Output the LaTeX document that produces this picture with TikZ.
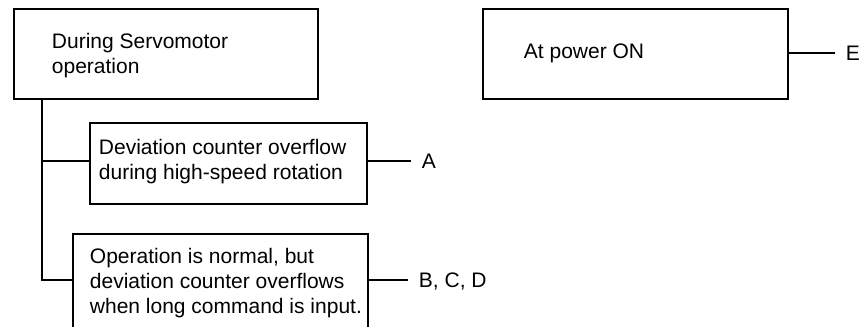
\documentclass[tikz,border=0pt]{standalone}
\usepackage{fontspec}
\setmainfont{Liberation Sans}
\begin{document}
\begin{tikzpicture}[x=0.75pt,y=-0.75pt,line width=1.4pt,
  box/.style={draw,rectangle,inner sep=0pt,anchor=north west},
  txt/.style={inner sep=0pt,align=left,anchor=base west,
    font=\fontsize{15.75pt}{18.75pt}\selectfont},
  lbl/.style={inner ysep=0pt,inner xsep=7.5pt,anchor=west,text depth=0pt,
    font=\fontsize{15.75pt}{18.75pt}\selectfont}]
\useasboundingbox (0,0) rectangle (865,326);
\clip (0,0) rectangle (865,326);
% boxes
\node[box,minimum width=228pt,minimum height=67.5pt] (b1) at (13,8) {};
\node[box,minimum width=207.75pt,minimum height=60.75pt] (b2) at (89,122) {};
\node[box,minimum width=221.25pt,minimum height=90pt] (b3) at (72,233) {};
\node[box,minimum width=228.75pt,minimum height=67.5pt] (b4) at (482,8) {};
% texts (anchored at the baseline of the last line)
\node[txt] (t1) at (51,73) {During Servomotor\\operation};
\node[txt] (t2) at (98,179) {Deviation counter overflow\\during high-speed rotation};
\node[txt] (t3) at (89,313) {Operation is normal, but\\deviation counter overflows\\when long command is input.};
\node[txt] (t4) at (523,58) {At power ON};
% result labels
\node[lbl] (la) at (411,161) {A};
\node[lbl] (lb) at (408,280) {B, C, D};
\node[lbl] (le) at (835,53) {E};
% connectors
\coordinate (j1) at (42,161);
\coordinate (j2) at (42,280);
\draw (b1.south -| j1) -- (j2) -- (j2 -| b3.west);
\draw (j1) -- (j1 -| b2.west);
\draw (la.west -| b2.east) -- (la.west);
\draw (lb.west -| b3.east) -- (lb.west);
\draw (le.west -| b4.east) -- (le.west);
\end{tikzpicture}
\end{document}
